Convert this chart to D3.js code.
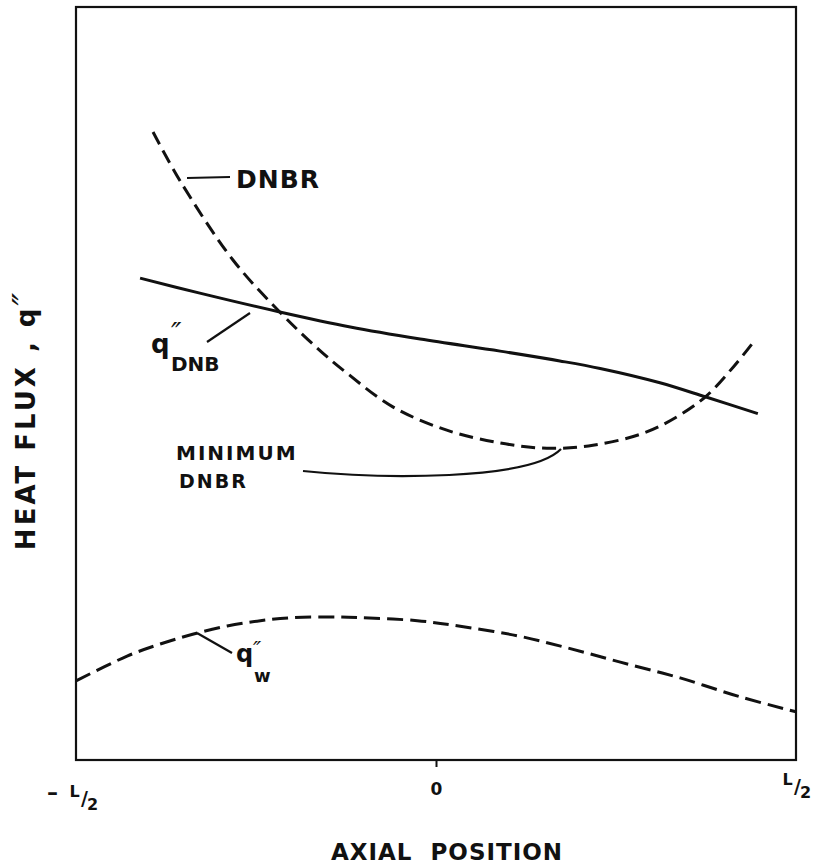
<!DOCTYPE html>
<html>
<head>
<meta charset="utf-8">
<script src="https://cdn.jsdelivr.net/npm/d3@7"></script>
<style>
  body { margin: 0; background: #fff; }
  text { font-family: "DejaVu Sans", sans-serif; font-weight: bold; fill: #111; }
</style>
</head>
<body>
<div id="chart"></div>
<script>
// axial position is in units of core length L, heat flux in arbitrary units
var dnbrX = [-0.393, -0.356, -0.282, -0.217, -0.165, -0.124, -0.060, 0.015, 0.089, 0.154, 0.218, 0.288, 0.335, 0.375, 0.413, 0.440];
var dnbrY = [83.4, 77.0, 66.4, 59.5, 54.7, 51.4, 46.9, 43.8, 42.1, 41.4, 41.8, 43.4, 45.6, 48.3, 52.2, 55.4];

var qDnbX = [-0.411, -0.328, -0.217, -0.119, -0.022, 0.089, 0.172, 0.228, 0.311, 0.375, 0.447];
var qDnbY = [64.0, 62.0, 59.5, 57.5, 55.9, 54.3, 53.0, 52.0, 50.1, 48.2, 46.0];

var qWallX = [-0.5, -0.429, -0.383, -0.338, -0.290, -0.244, -0.199, -0.147, -0.106, -0.026, 0.038, 0.113, 0.182, 0.256, 0.339, 0.422, 0.5];
var qWallY = [10.5, 13.8, 15.4, 16.7, 17.8, 18.5, 18.9, 19.0, 18.9, 18.5, 17.7, 16.5, 14.9, 13.0, 10.9, 8.4, 6.4];

var tickValues = [-0.5, 0, 0.5];
var tickLabels = ["-L/2", "0", "L/2"];

var svgWidth = 817, svgHeight = 865;
var margin = { top: 7, right: 21, bottom: 105, left: 76 };
var width = svgWidth - margin.left - margin.right;
var height = svgHeight - margin.top - margin.bottom;

var svg = d3.select("#chart").append("svg")
  .attr("width", svgWidth)
  .attr("height", svgHeight);

var chartGroup = svg.append("g")
  .attr("transform", `translate(${margin.left}, ${margin.top})`);

var xScale = d3.scaleLinear().domain([-0.5, 0.5]).range([0, width]);
var yScale = d3.scaleLinear().domain([0, 100]).range([height, 0]);

// frame
chartGroup.append("rect")
  .attr("width", width)
  .attr("height", height)
  .attr("fill", "none")
  .attr("stroke", "#111")
  .attr("stroke-width", 2.2);

// bottom axis, only the centre tick shows a mark
var bottomAxis = d3.axisBottom(xScale)
  .tickValues(tickValues)
  .tickSize(7)
  .tickFormat((d, i) => tickLabels[i]);

var axisG = chartGroup.append("g")
  .attr("transform", `translate(0, ${height})`)
  .call(bottomAxis);
axisG.select(".domain").remove();
axisG.selectAll(".tick line")
  .attr("stroke", "#111")
  .attr("stroke-width", 2)
  .attr("opacity", d => d === 0 ? 1 : 0);

// the L/2 labels are hand lettered: raised L, slash, lowered 2
axisG.selectAll(".tick").each(function(d, i) {
  var g = d3.select(this);
  var label = tickLabels[i];
  g.select("text").remove();
  var t = g.append("text").attr("font-size", 16);
  if (label.indexOf("/") < 0) {
    t.attr("text-anchor", "middle").attr("y", 35).attr("font-size", 17).text(label);
    return;
  }
  var parts = label.replace("-", "").split("/");
  var x0 = d < 0 ? -2 : -9;
  var y0 = d < 0 ? 37 : 25;
  if (label[0] === "-") {
    t.append("tspan").attr("x", x0 - 22).attr("y", y0 + 3).attr("font-size", 22).text("\u2013");
  }
  t.append("tspan").attr("x", x0).attr("y", y0).text(parts[0]);
  t.append("tspan").attr("x", x0 + 10).attr("y", y0 + 8).attr("font-size", 19).text("/");
  t.append("tspan").attr("x", x0 + 18).attr("y", y0 + 13).text(parts[1]);
});

// curves
var line = d3.line()
  .x(d => xScale(d[0]))
  .y(d => yScale(d[1]))
  .curve(d3.curveCatmullRom);

chartGroup.append("path")
  .datum(d3.zip(qDnbX, qDnbY))
  .attr("d", line)
  .attr("fill", "none")
  .attr("stroke", "#111")
  .attr("stroke-width", 3);

chartGroup.append("path")
  .datum(d3.zip(dnbrX, dnbrY))
  .attr("d", line)
  .attr("fill", "none")
  .attr("stroke", "#111")
  .attr("stroke-width", 3)
  .attr("stroke-dasharray", "14,7");

chartGroup.append("path")
  .datum(d3.zip(qWallX, qWallY))
  .attr("d", line)
  .attr("fill", "none")
  .attr("stroke", "#111")
  .attr("stroke-width", 3)
  .attr("stroke-dasharray", "16,7");

// leader lines and labels (page coordinates)
var notes = svg.append("g");
notes.append("path").attr("d", "M187,178 L230,177");
notes.append("path").attr("d", "M207,342 L250,313");
notes.append("path").attr("d", "M303,471 C380,479 530,481 561,449");
notes.append("path").attr("d", "M197,633 L232,653");
notes.selectAll("path")
  .attr("fill", "none")
  .attr("stroke", "#111")
  .attr("stroke-width", 2.2);

notes.append("text").attr("x", 236).attr("y", 188)
  .attr("font-size", 25).attr("letter-spacing", 1).text("DNBR");

var qDnbLabel = notes.append("text");
qDnbLabel.append("tspan").attr("x", 151).attr("y", 353).attr("font-size", 26).text("q");
qDnbLabel.append("tspan").attr("x", 171).attr("y", 343).attr("font-size", 28)
  .attr("font-style", "italic").attr("font-weight", "normal").text("\u2033");
qDnbLabel.append("tspan").attr("x", 171).attr("y", 371).attr("font-size", 20).text("DNB");

notes.append("text").attr("x", 176).attr("y", 460)
  .attr("font-size", 20).attr("letter-spacing", 2).text("MINIMUM");
notes.append("text").attr("x", 179).attr("y", 488)
  .attr("font-size", 19).attr("letter-spacing", 2).text("DNBR");

var qWallLabel = notes.append("text");
qWallLabel.append("tspan").attr("x", 236).attr("y", 662).attr("font-size", 24).text("q");
qWallLabel.append("tspan").attr("x", 253).attr("y", 657).attr("font-size", 22)
  .attr("font-style", "italic").attr("font-weight", "normal").text("\u2033");
qWallLabel.append("tspan").attr("x", 254).attr("y", 682).attr("font-size", 18).text("w");

// axis titles
var yTitle = svg.append("text")
  .attr("transform", "translate(35, 420) rotate(-90)")
  .attr("text-anchor", "middle")
  .attr("font-size", 26)
  .attr("letter-spacing", 3);
yTitle.append("tspan").text("HEAT FLUX , q");
yTitle.append("tspan").attr("font-size", 34).attr("font-style", "italic")
  .attr("font-weight", "normal").attr("dy", 2).text("\u2033");

svg.append("text")
  .attr("x", 447)
  .attr("y", 860)
  .attr("text-anchor", "middle")
  .attr("font-size", 23)
  .attr("letter-spacing", 1)
  .style("white-space", "pre")
  .text("AXIAL  POSITION");
</script>
</body>
</html>
